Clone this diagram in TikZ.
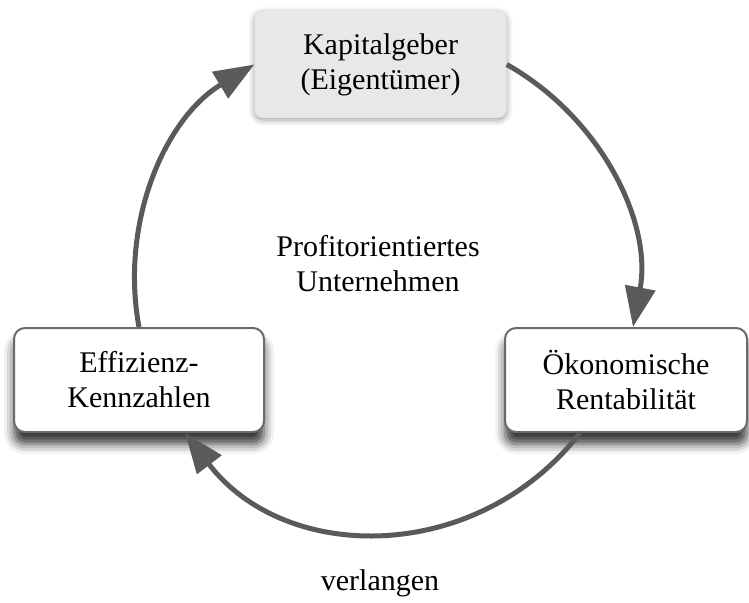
\documentclass[tikz,border=0pt]{standalone}
\usepackage{fontspec}
\setmainfont{Liberation Serif}
\usetikzlibrary{arrows.meta,shadows.blur}

\definecolor{arrowgray}{HTML}{5A5A5A}
\definecolor{boxgray}{HTML}{E8E8E8}
\definecolor{edgegray}{HTML}{6A6A6A}

\begin{document}
\begin{tikzpicture}[x=1pt,y=1pt,
  txt/.style={align=center, font=\fontsize{30}{35}\selectfont, text=black},
  topbox/.style={txt, rounded corners=9pt, fill=boxgray,
    minimum width=252pt, minimum height=107pt, inner sep=0pt,
    blur shadow={shadow xshift=0pt, shadow yshift=-2pt,
      shadow blur radius=6pt, shadow opacity=40}},
  sidebox/.style={txt, rounded corners=11pt, draw=edgegray, line width=2pt,
    fill=white, minimum height=104pt, inner sep=0pt,
    blur shadow={shadow xshift=0pt, shadow yshift=-12pt,
      shadow blur radius=10pt, shadow opacity=80}},
  flow/.style={draw=arrowgray, line width=5pt,
    -{Triangle[length=40pt,width=30pt]}}
]
\useasboundingbox (0,0) rectangle (749,-602);

% the three parties of the cycle
\node[topbox] (top) at (380.5,-64.5) {Kapitalgeber\\(Eigentümer)};
\node[sidebox, minimum width=250pt] (left) at (139,-380) {Effizienz-\\Kennzahlen};
\node[sidebox, minimum width=242pt] (right) at (626,-380) {Ökonomische\\Rentabilität};

% centre and bottom labels
\node[txt] (centre) at (378,-264) {Profitorientiertes\\Unternehmen};
\node[txt] (demand) at (380,-583) {verlangen};

% circular flow, drawn clockwise
\draw[flow, looseness=0.94] (left.north) to[out=100.5, in=211.1] (top.west);
\draw[flow, looseness=0.94] (top.east) to[out=-29.3, in=79.5] ([xshift=7pt]right.north);
\draw[flow, looseness=1.08] (right.229) to[out=-127.9, in=-52.6] (left.311);
\end{tikzpicture}
\end{document}
